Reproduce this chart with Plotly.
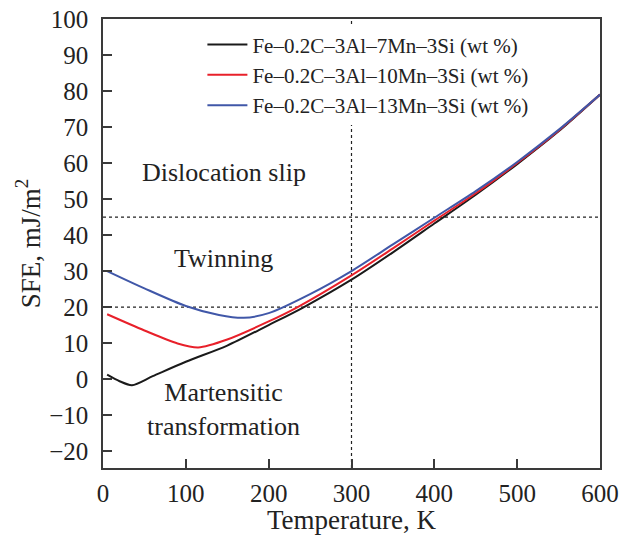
import plotly.graph_objects as go

# Temperature (K) and SFE (mJ/m^2)
t_7mn = [5, 20, 35, 60, 100, 150, 200, 241, 300, 350, 400, 450, 500, 550, 600]
sfe_7mn = [1.2, -0.6, -1.7, 0.8, 4.8, 9.3, 15.0, 19.8, 27.6, 35.2, 43.2, 51.2, 59.7, 68.8, 79.0]

t_10mn = [5, 50, 90, 115, 150, 200, 235, 300, 350, 400, 450, 500, 550, 600]
sfe_10mn = [18.0, 13.5, 9.9, 8.8, 11.0, 16.0, 20.0, 28.8, 36.3, 44.0, 51.6, 60.0, 69.0, 79.0]

t_13mn = [5, 50, 100, 140, 170, 200, 250, 300, 350, 400, 450, 500, 550, 600]
sfe_13mn = [30.0, 25.2, 20.3, 17.8, 17.0, 18.3, 23.6, 30.0, 37.4, 44.8, 52.2, 60.3, 69.2, 79.0]

series_names = [
    "Fe\u20130.2C\u20133Al\u20137Mn\u20133Si (wt %)",
    "Fe\u20130.2C\u20133Al\u201310Mn\u20133Si (wt %)",
    "Fe\u20130.2C\u20133Al\u201313Mn\u20133Si (wt %)",
]
series_colors = ["#1a1a1a", "#e8202a", "#4057a8"]

boundary_sfe = [20, 45]
boundary_t = [300]

regions = ["Dislocation slip", "Twinning", "Martensitic<br>transformation"]
region_t = [146, 145, 145]
region_sfe = [57.5, 33.6, -8.4]

x_range = [0, 600]
y_range = [-24.7, 100]

FONT = "Liberation Serif, Times New Roman, serif"

fig = go.Figure()

for i, (xs, ys) in enumerate([(t_7mn, sfe_7mn), (t_10mn, sfe_10mn), (t_13mn, sfe_13mn)]):
    fig.add_trace(go.Scatter(
        x=xs, y=ys, mode="lines", name=series_names[i],
        line=dict(color=series_colors[i], width=2, shape="spline", smoothing=0.8),
    ))

for v in boundary_sfe:
    fig.add_shape(type="line", xref="x", yref="y", x0=x_range[0], x1=x_range[1], y0=v, y1=v,
                  line=dict(color="#222222", width=1.2, dash="dot"), layer="below")
for v in boundary_t:
    fig.add_shape(type="line", xref="x", yref="y", x0=v, x1=v, y0=y_range[0], y1=y_range[1],
                  line=dict(color="#222222", width=1.2, dash="dot"), layer="below")

for txt, xv, yv in zip(regions, region_t, region_sfe):
    fig.add_annotation(x=xv, y=yv, xref="x", yref="y", text=txt, showarrow=False,
                       font=dict(family=FONT, size=26, color="#222222"))

axis_common = dict(
    showgrid=False, zeroline=False, showline=True, linecolor="#3a3a3a", linewidth=1.5,
    mirror=True, ticks="inside", ticklen=9, tickwidth=1.5, tickcolor="#3a3a3a",
    tickfont=dict(family=FONT, size=25, color="#222222"), automargin=False,
)

fig.update_xaxes(range=x_range, dtick=100, tick0=0, ticklabelstandoff=2,
                 title=dict(text="Temperature, K", font=dict(family=FONT, size=27, color="#222222"), standoff=2),
                 **axis_common)
fig.update_yaxes(range=y_range, dtick=10, tick0=0, ticklabelstandoff=8,
                 title=dict(text="SFE, mJ/m<sup>2</sup>", font=dict(family=FONT, size=27, color="#222222"), standoff=1),
                 **axis_common)

fig.update_layout(
    width=629, height=535,
    margin=dict(l=103, r=29, t=19, b=67, autoexpand=False),
    plot_bgcolor="white", paper_bgcolor="white",
    showlegend=True,
    legend=dict(x=0.2, y=0.988, xanchor="left", yanchor="top",
                font=dict(family=FONT, size=21, color="#222222"),
                bgcolor="rgba(255,255,255,1)", tracegroupgap=0,
                itemwidth=40),
)

fig.write_html("out.html")
